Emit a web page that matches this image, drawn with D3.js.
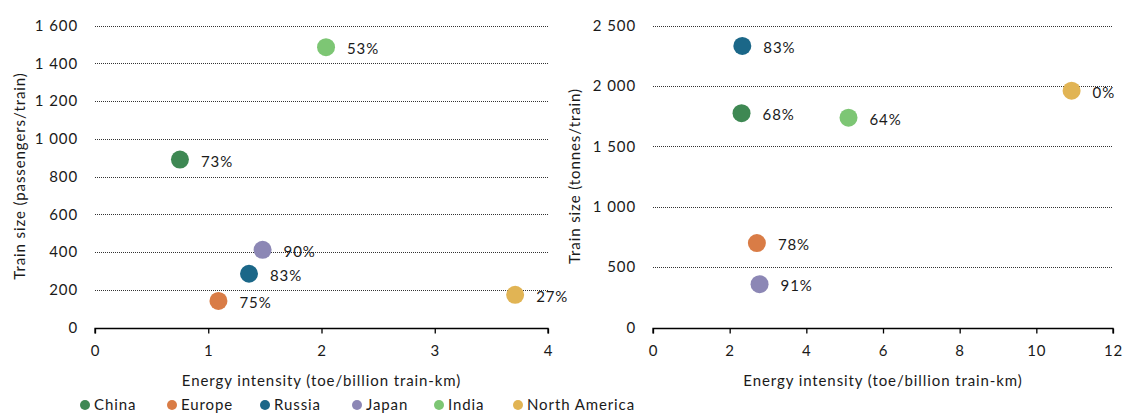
<!DOCTYPE html>
<html>
<head>
<meta charset="utf-8">
<script src="https://cdn.jsdelivr.net/npm/d3@7"></script>
<style>
  body { margin: 0; background: #fff; }
  text { font-family: Lato, "Open Sans", sans-serif; fill: #1a1a1a; letter-spacing: 0.9px; }
</style>
</head>
<body>
<div id="chart"></div>
<script>
const regions = ["China", "Europe", "Russia", "Japan", "India", "North America"];
const colors = ["#3e8853", "#d97c46", "#1b6788", "#8c87b5", "#7dc674", "#e1b454"];

// passenger panel
const passIntensity = [0.75, 1.09, 1.36, 1.48, 2.04, 3.71];
const passSize = [890, 141, 285, 412, 1486, 173];
const passShare = ["73%", "75%", "83%", "90%", "53%", "27%"];

// freight panel
const freightIntensity = [2.31, 2.71, 2.33, 2.78, 5.10, 10.92];
const freightSize = [1775, 699, 2332, 359, 1738, 1962];
const freightShare = ["68%", "78%", "83%", "91%", "64%", "0%"];

const width = 1124, height = 414;
const fs = "15px";
const svg = d3.select("#chart").append("svg")
    .attr("width", width)
    .attr("height", height);

const fmt = d3.formatLocale({decimal: ".", thousands: " ", grouping: [3], currency: ["", ""]}).format(",");

function panel(opts) {
    const x = d3.scaleLinear().domain(opts.xDomain).range(opts.xRange);
    const y = d3.scaleLinear().domain(opts.yDomain).range([327.5, 25.7]);
    const g = svg.append("g");

    // dotted gridlines
    g.selectAll("line.grid")
        .data(opts.yTicks.filter(d => d > 0))
        .enter().append("line")
        .attr("class", "grid")
        .attr("x1", opts.xRange[0])
        .attr("x2", opts.xRange[1])
        .attr("y1", d => Math.round(y(d)) + 0.5)
        .attr("y2", d => Math.round(y(d)) + 0.5)
        .attr("stroke", "#333")
        .attr("stroke-width", 1)
        .attr("stroke-dasharray", "1,1");

    // y tick labels
    g.selectAll("text.ylab")
        .data(opts.yTicks)
        .enter().append("text")
        .attr("x", opts.xRange[0] - 17)
        .attr("y", d => y(d))
        .attr("dy", "0.35em")
        .attr("text-anchor", "end")
        .style("font-size", fs)
        .text(d => fmt(d));

    // x axis
    const xAxis = d3.axisBottom(x).tickValues(opts.xTicks).tickSize(5).tickPadding(12).tickFormat(d3.format("d"));
    const ax = g.append("g")
        .attr("transform", `translate(0,${Math.round(y(0)) + 0.5})`)
        .call(xAxis);
    ax.select(".domain").attr("stroke", "#000").attr("stroke-width", 1.3).attr("d", `M${opts.xRange[0]},5V0H${opts.xRange[1]}V5`);
    ax.selectAll(".tick line").attr("stroke", "#000").attr("stroke-width", 1.3);
    ax.selectAll(".tick text").style("font-size", fs).style("font-family", "Lato, sans-serif").attr("fill", "#1a1a1a");

    // axis titles
    g.append("text")
        .attr("x", (opts.xRange[0] + opts.xRange[1]) / 2)
        .attr("y", 386)
        .attr("text-anchor", "middle")
        .style("font-size", fs)
        .text("Energy intensity (toe/billion train-km)");

    g.append("text")
        .attr("transform", `translate(${opts.yTitleX},176) rotate(-90)`)
        .attr("text-anchor", "middle")
        .attr("dy", "0.35em")
        .style("font-size", fs)
        .text(opts.yTitle);

    // points
    const pts = regions.map((r, i) => ({r, c: colors[i], x: opts.xs[i], y: opts.ys[i], lab: opts.labels[i]}));
    g.selectAll("circle.pt")
        .data(pts)
        .enter().append("circle")
        .attr("class", "pt")
        .attr("cx", d => x(d.x))
        .attr("cy", d => y(d.y))
        .attr("r", 9)
        .attr("fill", d => d.c);

    g.selectAll("text.pl")
        .data(pts)
        .enter().append("text")
        .attr("class", "pl")
        .attr("x", d => x(d.x) + 21)
        .attr("y", d => y(d.y) + 2)
        .attr("dy", "0.35em")
        .style("font-size", fs)
        .text(d => d.lab);
}

panel({
    xDomain: [0, 4], xRange: [95, 548], xTicks: [0, 1, 2, 3, 4],
    yDomain: [0, 1600], yTicks: [0, 200, 400, 600, 800, 1000, 1200, 1400, 1600],
    xs: passIntensity, ys: passSize, labels: passShare,
    yTitle: "Train size (passengers/train)", yTitleX: 20
});

panel({
    xDomain: [0, 12], xRange: [653, 1113], xTicks: [0, 2, 4, 6, 8, 10, 12],
    yDomain: [0, 2500], yTicks: [0, 500, 1000, 1500, 2000, 2500],
    xs: freightIntensity, ys: freightSize, labels: freightShare,
    yTitle: "Train size (tonnes/train)", yTitleX: 575
});

// legend
const legendX = [85, 172, 265, 357, 439, 518];
const legend = svg.append("g");
const items = legend.selectAll("g")
    .data(regions)
    .enter().append("g")
    .attr("transform", (d, i) => `translate(${legendX[i]},405)`);
items.append("circle").attr("r", 5).attr("fill", (d, i) => colors[i]);
items.append("text")
    .attr("x", 9)
    .attr("dy", "0.35em")
    .style("font-size", fs)
    .text(d => d);
</script>
</body>
</html>
